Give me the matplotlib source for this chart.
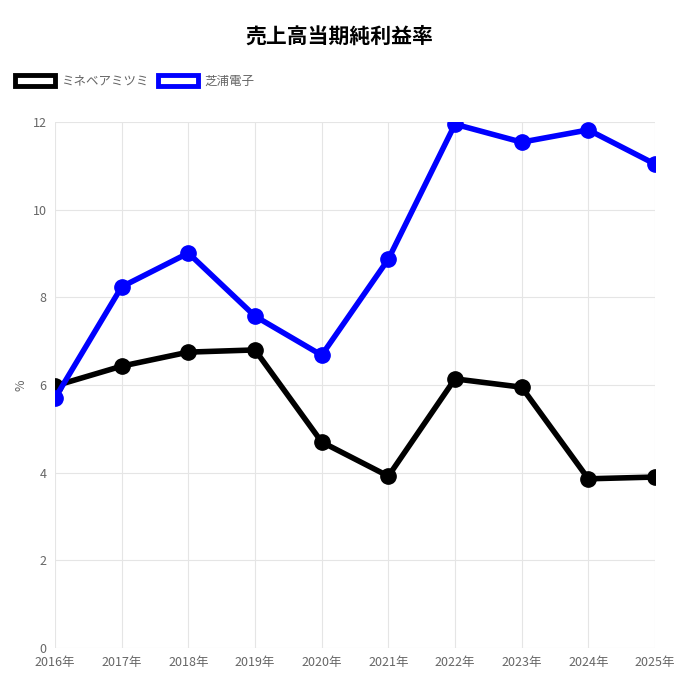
import matplotlib
matplotlib.use("Agg")
import matplotlib.pyplot as plt
from matplotlib.patches import Patch

plt.rcParams['font.family'] = ['Noto Sans CJK JP', 'DejaVu Sans']

years = ["2016年","2017年","2018年","2019年","2020年","2021年","2022年","2023年","2024年","2025年"]
minebea = [5.98, 6.43, 6.75, 6.80, 4.70, 3.92, 6.14, 5.95, 3.86, 3.90]
shibaura = [5.70, 8.24, 9.01, 7.57, 6.68, 8.87, 11.95, 11.54, 11.82, 11.04]
names = ["ミネベアミツミ", "芝浦電子"]
colors = ["#000000", "#0000ff"]

fig = plt.figure(figsize=(6.79, 6.80), dpi=100)
ax = fig.add_axes([55/679, 32/680, 600/679, 526/680])
x = list(range(len(years)))
for vals, c in zip([minebea, shibaura], colors):
    ax.plot(x, vals, color=c, lw=4, marker='o', ms=11, zorder=3)
ax.set_xlim(0, len(years)-1)
ax.set_ylim(0, 12)
ax.set_yticks(range(0, 13, 2))
ax.set_xticks(x)
ax.set_xticklabels(years)
ax.tick_params(colors='#666666', labelsize=9, length=0, pad=6)
ax.grid(color='#e5e5e5', lw=0.8)
for s in ax.spines.values():
    s.set_visible(False)
ax.set_ylabel('%', color='#666666', fontsize=9)
fig.text(0.5, 1-36/680, '売上高当期純利益率', ha='center', va='center', fontsize=15, fontweight='bold')
handles = [Patch(facecolor='white', edgecolor=c, lw=3.5) for c in colors]
fig.legend(handles, names, loc='center left', bbox_to_anchor=(0.005, 1-81/680), ncol=2,
           frameon=False, fontsize=9, labelcolor='#666666', handlelength=3.2, handleheight=1.0,
           columnspacing=0.8, handletextpad=0.5)
fig.savefig('out.png', dpi=100)
